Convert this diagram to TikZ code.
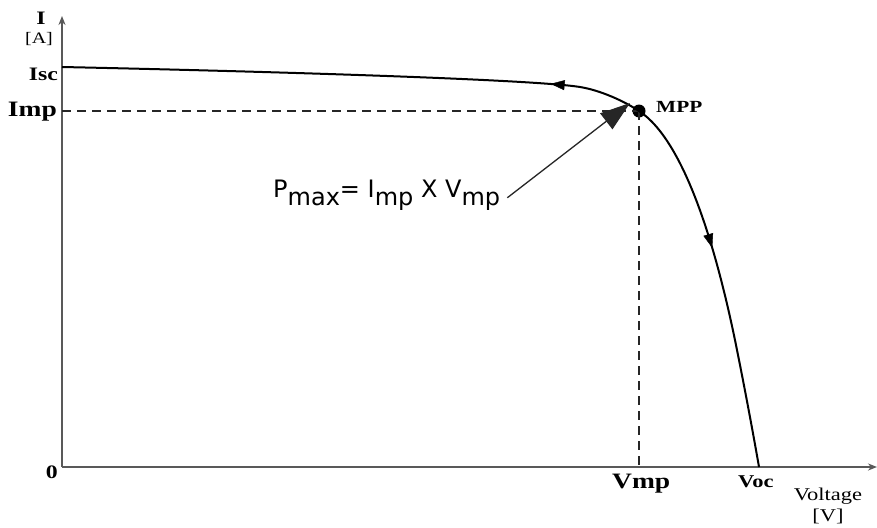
\documentclass[tikz,border=0pt]{standalone}
\usepackage{fontspec}
\setmainfont{Liberation Serif}
\newfontfamily\lblserif[FakeStretch=1.25]{Liberation Serif}
\newfontfamily\formulafont{DejaVu Sans}
\usetikzlibrary{arrows.meta,decorations.markings}
\begin{document}
\begin{tikzpicture}[x=1pt,y=-1pt,
  axisline/.style={draw=black!65,line width=1.6pt},
  guide/.style={draw=black!85,line width=1.2pt,dash pattern=on 9pt off 6pt},
  ivcurve/.style={draw=black,line width=2pt},
  curvetip/.style={decoration={markings,
      mark=at position #1 with {\arrow{Triangle[length=14pt,width=10pt]}}},decorate},
  curvetipback/.style={decoration={markings,
      mark=at position #1 with {\arrow{Triangle[length=14pt,width=10pt,reversed]}}},decorate},
  lbl/.style={inner sep=0pt,font=\lblserif\bfseries},
  lblr/.style={inner sep=0pt,font=\lblserif}
]
\useasboundingbox (0,0) rectangle (877,527);
\fill[white] (0,0) rectangle (877,527);

% axes
\coordinate (O) at (62,467);
\coordinate (ytop) at (62,16);
\coordinate (xend) at (877,467);
\draw[axisline,-{Stealth[length=9pt,width=7pt]}] (O) -- (ytop);
\draw[axisline,-{Stealth[length=9pt,width=7pt]}] (O) -- (xend);

% points
\coordinate (Isc) at (62,67);
\coordinate (Impy) at (62,111);
\coordinate (Vmpx) at (639,467);
\coordinate (Voc) at (759,467);
\coordinate (B) at (580,87);
\coordinate (Q) at (737,350);
\node[circle,fill=black,inner sep=0pt,minimum size=13pt] (MPP) at (639,111) {};

% dashed guides
\draw[guide] (Impy) -- (MPP.center);
\draw[guide] (MPP.center) -- (Vmpx);

% curve
\draw[ivcurve] (Isc) .. controls (250,71) and (530,79) .. (B)
  .. controls (600,90.2) and (624,101) .. (MPP.center)
  .. controls (685,141) and (717,250) .. (Q)
  .. controls (745,390) and (752,427) .. (Voc);
\path[curvetipback=0.97] (Isc) .. controls (250,71) and (530,79) .. (B);
\path[curvetip=0.6] (MPP.center) .. controls (685,141) and (717,250) .. (Q);

% labels
\node[lbl,font=\lblserif\bfseries\fontsize{19}{19}\selectfont,anchor=base] (lI) at (41,25) {I};
\node[lblr,font=\lblserif\fontsize{16}{16}\selectfont,anchor=base] (lA) at (39,44) {[A]};
\node[lbl,font=\lblserif\bfseries\fontsize{19}{19}\selectfont,anchor=base east] (lIsc) at (58,80) {Isc};
\node[lbl,font=\lblserif\bfseries\fontsize{22}{22}\selectfont,anchor=base east] (lImp) at (57,116) {Imp};
\node[lbl,font=\lblserif\bfseries\fontsize{19}{19}\selectfont,anchor=base east] (l0) at (58,478) {0};
\node[lbl,font=\lblserif\bfseries\fontsize{22}{22}\selectfont,anchor=base west] (lVmp) at (612,488) {Vmp};
\node[lbl,font=\lblserif\bfseries\fontsize{18}{18}\selectfont,anchor=base west] (lVoc) at (738,487) {Voc};
\node[lblr,font=\lblserif\fontsize{18}{18}\selectfont,anchor=base] (lVolt) at (828,500) {Voltage};
\node[lblr,font=\lblserif\fontsize{18}{18}\selectfont,anchor=base] (lV) at (828,521) {[V]};
\node[lbl,font=\lblserif\bfseries\fontsize{17}{17}\selectfont,anchor=base west] (lMPP) at (656,112) {MPP};

% formula
\node[inner sep=0pt,anchor=base west,font=\formulafont\fontsize{24}{24}\selectfont] (pmax) at (273,197)
  {P\raisebox{-8pt}{max}= I\raisebox{-8pt}{mp} X V\raisebox{-8pt}{mp}};
\draw[black!85,line width=1.3pt,-{Triangle[length=30pt,width=20pt]}] (pmax.east) ++(7pt,-3pt) coordinate (pstart) -- ([shift={(-9pt,8pt)}]MPP.center);
\end{tikzpicture}
\end{document}
